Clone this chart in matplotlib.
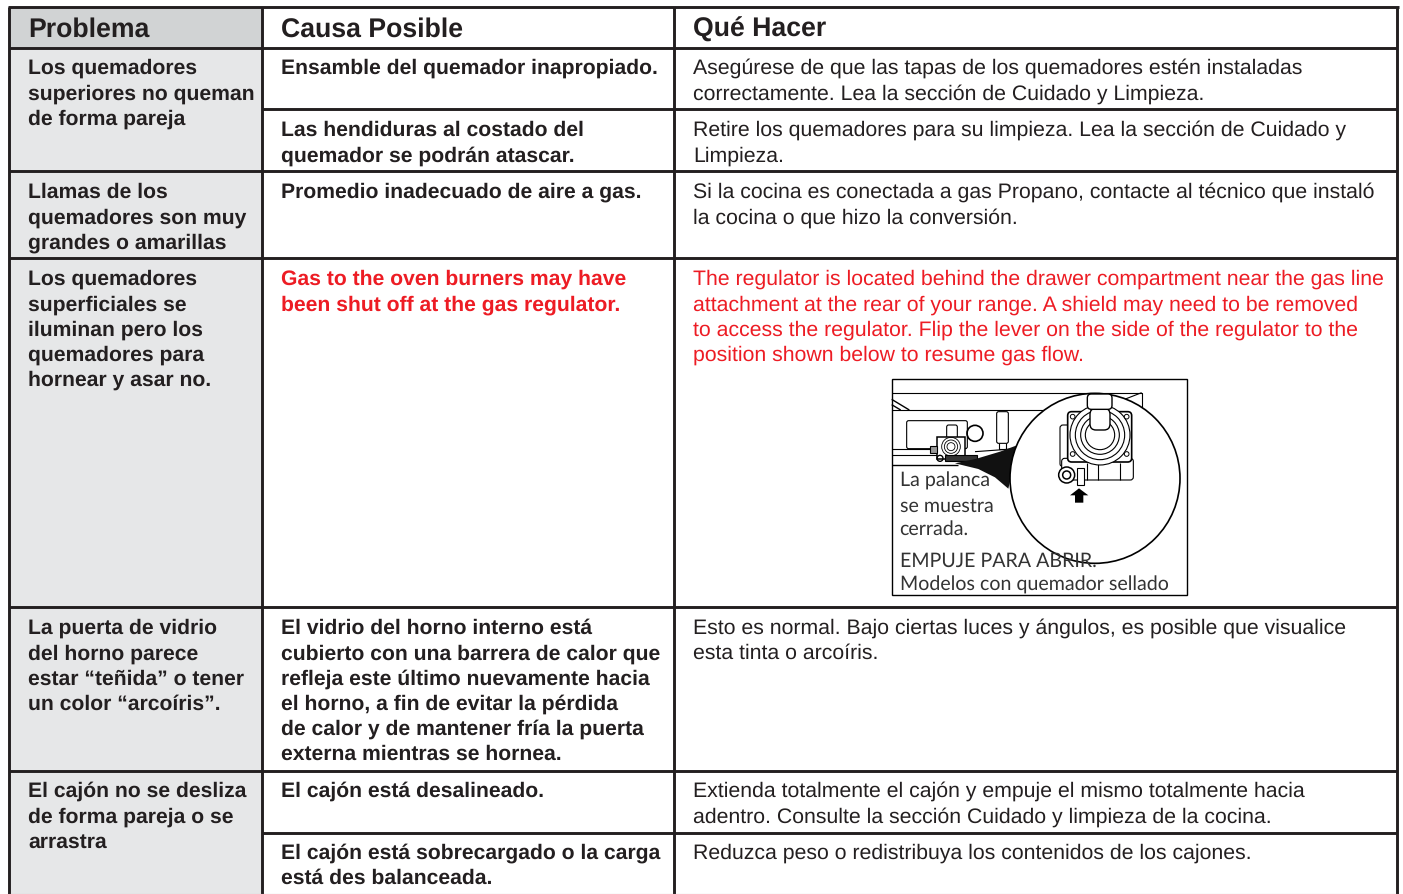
import matplotlib
matplotlib.use("Agg")
import matplotlib.pyplot as plt
from matplotlib.patches import Rectangle, Circle, Polygon, FancyBboxPatch

plt.rcParams["text.hinting"] = "none"

# Table text
headers = ["Problema", "Causa Posible", "Qué Hacer"]
problems = [
    ["Los quemadores", "superiores no queman", "de forma pareja"],
    ["Llamas de los", "quemadores son muy", "grandes o amarillas"],
    ["Los quemadores", "superficiales se", "iluminan pero los", "quemadores para", "hornear y asar no."],
    ["La puerta de vidrio", "del horno parece", "estar “teñida” o tener", "un color “arcoíris”."],
    ["El cajón no se desliza", "de forma pareja o se", "arrastra"],
]
causes = [
    ["Ensamble del quemador inapropiado."],
    ["Las hendiduras al costado del", "quemador se podrán atascar."],
    ["Promedio inadecuado de aire a gas."],
    ["Gas to the oven burners may have", "been shut off at the gas regulator."],
    ["El vidrio del horno interno está", "cubierto con una barrera de calor que", "refleja este último nuevamente hacia",
     "el horno, a fin de evitar la pérdida", "de calor y de mantener fría la puerta", "externa mientras se hornea."],
    ["El cajón está desalineado."],
    ["El cajón está sobrecargado o la carga", "está des balanceada."],
]
actions = [
    ["Asegúrese de que las tapas de los quemadores estén instaladas", "correctamente. Lea la sección de Cuidado y Limpieza."],
    ["Retire los quemadores para su limpieza. Lea la sección de Cuidado y", "Limpieza."],
    ["Si la cocina es conectada a gas Propano, contacte al técnico que instaló", "la cocina o que hizo la conversión."],
    ["The regulator is located behind the drawer compartment near the gas line", "attachment at the rear of your range. A shield may need to be removed",
     "to access the regulator. Flip the lever on the side of the regulator to the", "position shown below to resume gas flow."],
    ["Esto es normal. Bajo ciertas luces y ángulos, es posible que visualice", "esta tinta o arcoíris."],
    ["Extienda totalmente el cajón y empuje el mismo totalmente hacia", "adentro. Consulte la sección Cuidado y limpieza de la cocina."],
    ["Reduzca peso o redistribuya los contenidos de los cajones."],
]
figure_labels = ["La palanca", "se muestra", "cerrada.", "EMPUJE PARA ABRIR.", "Modelos con quemador sellado"]

# Layout, in pixels of the page
row_lines = [48, 109, 171, 258, 607, 771, 833]
inner_only = [109, 833]  # these two do not cross the Problema column
col_lines = [9, 262, 674, 1397]
row_base = [74, 136, 198, 285, 634, 797, 859]
problem_base = [74, 198, 285, 634, 797]
red_row = 3
spacing = 25.15
ink = "#231f20"
red = "#ed1c24"
font = "Liberation Sans"
body_size = 15.3
bold_size = 15.25

fig = plt.figure(figsize=(14.03, 8.94), dpi=100)
ax = fig.add_axes([0, 0, 1, 1])
ax.set_xlim(0, 1403)
ax.set_ylim(894, 0)
ax.axis("off")

ax.add_patch(Rectangle((9, 7), 253, 41, fc="#d1d3d4", ec="none"))
ax.add_patch(Rectangle((9, 48), 253, 846, fc="#e6e7e8", ec="none"))


def put_lines(x, y, lines, **kw):
    for i, line in enumerate(lines):
        ax.text(x, y + i * spacing, line, family=font, va="baseline", ha="left", **kw)


xs = [28, 281, 693]
for x, h in zip(xs, headers):
    ax.text(x, 37, h, family=font, weight="bold", fontsize=19.2, color=ink, va="baseline")
for y, lines in zip(problem_base, problems):
    put_lines(xs[0], y, lines, weight="bold", fontsize=bold_size, color=ink)
for i, (y, lines) in enumerate(zip(row_base, causes)):
    put_lines(xs[1], y, lines, weight="bold", fontsize=bold_size, color=red if i == red_row else ink)
for i, (y, lines) in enumerate(zip(row_base, actions)):
    put_lines(xs[2], y, lines, fontsize=body_size, color=red if i == red_row else ink)

# grid lines
line_w = 2.1
ax.plot([7.5, 1398.5], [7, 7], color=ink, lw=line_w, solid_capstyle="butt")
for y in row_lines:
    x0 = col_lines[1] if y in inner_only else col_lines[0]
    ax.plot([x0, 1397], [y, y], color=ink, lw=line_w, solid_capstyle="butt")
for x in col_lines:
    ax.plot([x, x], [7, 894], color=ink, lw=line_w, solid_capstyle="butt")
ax.plot([9, 1397], [893.5, 893.5], color="#b5b5b5", lw=0.8)


# Regulator drawing, sketched in 3x crop coordinates of the picture box
def px(x, y):
    return 880 + x / 3, 370 + y / 3


def seg(pts, lw=0.8, color="black", z=3):
    ax.plot(*zip(*[px(*p) for p in pts]), color=color, lw=lw, zorder=z, solid_capstyle="butt")


def box(x0, y0, x1, y1, fc="white", lw=0.8, z=3, round_px=0):
    a = px(x0, y0)
    w, h = (x1 - x0) / 3, (y1 - y0) / 3
    if round_px:
        ax.add_patch(FancyBboxPatch(a, w, h, boxstyle=f"round,pad=0,rounding_size={round_px}", fc=fc, ec="black", lw=lw, zorder=z))
    else:
        ax.add_patch(Rectangle(a, w, h, fc=fc, ec="black", lw=lw, zorder=z))


def ring(x, y, r, fc="none", lw=0.8, z=3):
    ax.add_patch(Circle(px(x, y), r / 3, fc=fc, ec="black", lw=lw, zorder=z))


box(35, 28, 920, 675, lw=1.0, z=2)
seg([(35, 68), (785, 68), (785, 115)])
seg([(785, 68), (690, 105)])
seg([(35, 120), (510, 120)])
seg([(35, 88), (88, 120)], lw=1.0)
seg([(35, 104), (62, 120)], lw=1.0)
box(80, 152, 262, 236, round_px=2)
box(350, 125, 385, 220, round_px=2)
seg([(358, 220), (358, 238), (378, 238), (378, 220)])
seg([(35, 238), (170, 238)])
seg([(35, 255), (170, 255)])
seg([(35, 284), (235, 284)], lw=1.0)
seg([(285, 245), (410, 236)])
ring(285, 190, 24, lw=1.2)
box(200, 165, 232, 205, round_px=2)
box(172, 200, 254, 268, lw=1.1)
for r in (28, 20, 12):
    ring(213, 230, r, lw=0.6)
box(195, 255, 290, 272, fc="#333333")
ring(180, 265, 9, lw=1.0)
box(150, 228, 172, 248, fc="#999999")

# black wedge towards the enlarged circle
wedge = [(225, 280), (290, 266), (360, 245), (416, 224), (385, 356), (345, 322), (295, 297)]
ax.add_patch(Polygon([px(*p) for p in wedge], fc="#111111", ec="none", zorder=4))

# enlarged regulator
ring(645, 325, 255, fc="white", lw=1.2, z=5)
box(540, 165, 580, 290, z=6, round_px=3)
box(545, 265, 760, 330, z=6, round_px=3)
seg([(620, 280), (620, 330)], z=7)
seg([(655, 280), (655, 330)], z=7)
seg([(720, 280), (720, 330)], z=7)
box(563, 125, 755, 276, lw=1.2, z=7, round_px=4)
for r in (90, 74, 58, 44):
    ring(660, 195, r, fc="white", lw=0.8, z=8)
for cx, cy in [(578, 140), (740, 140), (578, 252), (740, 252)]:
    ring(cx, cy, 7, fc="white", lw=0.7, z=8)
box(630, 115, 690, 180, lw=1.0, z=9, round_px=6)
box(622, 72, 696, 118, lw=1.0, z=9, round_px=4)
ring(560, 315, 24, fc="white", lw=1.1, z=9)
ring(560, 315, 12, fc="white", lw=1.1, z=10)
box(592, 295, 612, 345, z=10)
arrow = [(597, 355), (570, 376), (585, 376), (585, 398), (610, 398), (610, 376), (625, 376)]
ax.add_patch(Polygon([px(*p) for p in arrow], fc="black", ec="none", zorder=10))

for y, s in zip([487, 512, 535, 567, 591], figure_labels):
    ax.text(899.5, y, s, family=["Lato", "Liberation Sans"], fontsize=14.1, color="#333333",
            va="baseline", zorder=12)

fig.savefig("out.png", dpi=100)
